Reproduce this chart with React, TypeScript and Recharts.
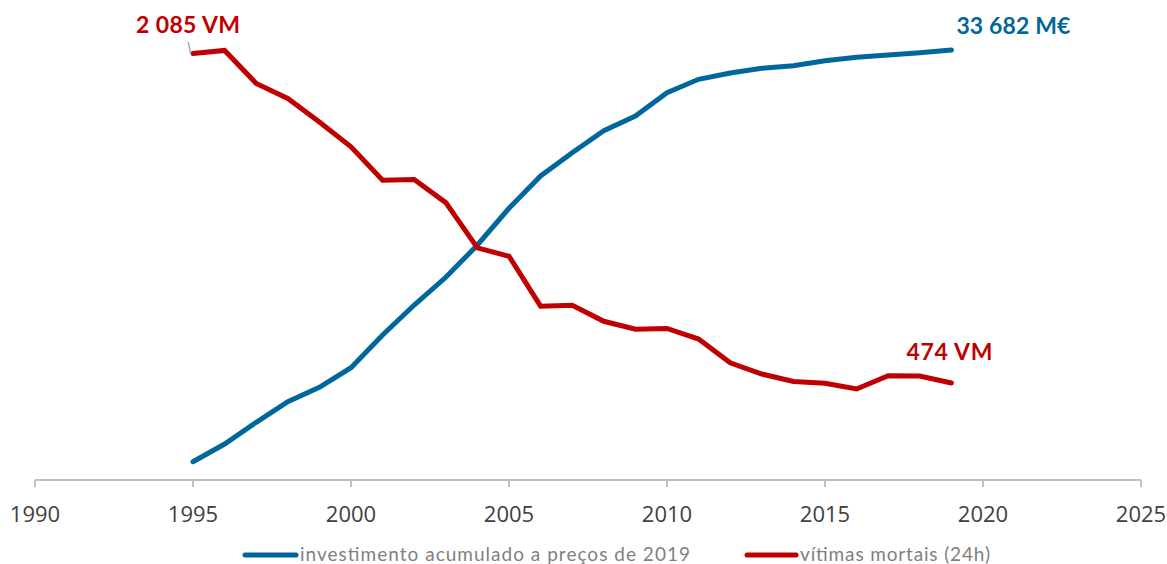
import React from 'react';
import { LineChart, Line, XAxis, YAxis, LabelList } from 'recharts';

const years = [1995, 1996, 1997, 1998, 1999, 2000, 2001, 2002, 2003, 2004, 2005, 2006, 2007, 2008, 2009, 2010, 2011, 2012, 2013, 2014, 2015, 2016, 2017, 2018, 2019];
const investimento = [1433, 2820, 4520, 6133, 7261, 8797, 11358, 13708, 15878, 18408, 21282, 23812, 25638, 27361, 28512, 30337, 31387, 31880, 32248, 32452, 32844, 33110, 33290, 33471, 33682];
const vitimas = [2085, 2100, 1939, 1865, 1750, 1629, 1466, 1469, 1356, 1135, 1094, 850, 854, 776, 737, 741, 689, 573, 518, 482, 473, 445, 510, 508, 474];
const xTicks = [1990, 1995, 2000, 2005, 2010, 2015, 2020, 2025];
const seriesNames = ['investimento acumulado a preços de 2019', 'vítimas mortais (24h)'];
const unitInvest = 'M€';
const unitVitimas = 'VM';

const BLUE = '#00679c';
const RED = '#c00000';

const data = years.map((year, i) => ({ year, investimento: investimento[i], vitimas: vitimas[i] }));

const fmt = (v: number) => Math.round(v).toString().replace(/\B(?=(\d{3})+(?!\d))/g, ' ');

const labelFont = { fontFamily: 'Lato, "Open Sans", sans-serif', fontWeight: 700, fontSize: 23 };

const RedLabel = (props: any) => {
  const { x, y, index, value } = props;
  if (index === 0) {
    return (
      <g>
        <line x1={x - 4.7} y1={y - 11.5} x2={x - 2.3} y2={y + 0.5} stroke="#a6a6a6" strokeWidth={1.5} />
        <text x={x - 5} y={y - 20.5} textAnchor="middle" fill={RED} {...labelFont} textLength={104} lengthAdjust="spacing">
          {`${fmt(value)} ${unitVitimas}`}
        </text>
      </g>
    );
  }
  if (index === vitimas.length - 1) {
    return (
      <text x={x - 2} y={y - 23} textAnchor="middle" fill={RED} {...labelFont} textLength={86} lengthAdjust="spacing">
        {`${fmt(value)} ${unitVitimas}`}
      </text>
    );
  }
  return null;
};

const BlueLabel = (props: any) => {
  const { x, y, index, value } = props;
  if (index === investimento.length - 1) {
    return (
      <text x={x + 5} y={y - 16} textAnchor="start" fill={BLUE} {...labelFont} textLength={114} lengthAdjust="spacing">
        {`${fmt(value)} ${unitInvest}`}
      </text>
    );
  }
  return null;
};

const Tick = (props: any) => {
  const { x, y, payload } = props;
  return (
    <text x={x} y={y + 33} textAnchor="middle" fill="#404040" fontSize={22} fontFamily='"Open Sans", sans-serif'>
      {payload.value}
    </text>
  );
};

const legendFont = { fontFamily: 'Lato, "Open Sans", sans-serif', fontSize: 19, fill: '#7f7f7f' };

export default function App() {
  return (
    <div style={{ position: 'absolute', left: 0, top: 0, width: 1167, height: 564, background: '#fff' }}>
      <LineChart width={1167} height={564} data={data} margin={{ top: 30, right: 26, bottom: 54, left: 35 }}>
        <XAxis
          dataKey="year"
          type="number"
          domain={[1990, 2025]}
          ticks={xTicks}
          interval={0}
          allowDecimals={false}
          height={30}
          axisLine={{ stroke: '#c0c0c0', strokeWidth: 2 }}
          tickLine={{ stroke: '#c0c0c0', strokeWidth: 2 }}
          tickSize={7}
          tick={<Tick />}
        />
        <YAxis yAxisId="left" hide domain={[0, 2200]} />
        <YAxis yAxisId="right" hide orientation="right" domain={[0, 35250]} />
        <Line
          yAxisId="right"
          dataKey="investimento"
          name={seriesNames[0]}
          stroke={BLUE}
          strokeWidth={5}
          dot={false}
          activeDot={false}
          strokeLinecap="round"
          isAnimationActive={false}
        >
          <LabelList dataKey="investimento" content={<BlueLabel />} />
        </Line>
        <Line
          yAxisId="left"
          dataKey="vitimas"
          name={seriesNames[1]}
          stroke={RED}
          strokeWidth={5}
          dot={false}
          activeDot={false}
          strokeLinecap="round"
          isAnimationActive={false}
        >
          <LabelList dataKey="vitimas" content={<RedLabel />} />
        </Line>
      </LineChart>
      <svg width={1167} height={29} style={{ position: 'absolute', left: 0, top: 540 }}>
        <line x1={245} y1={15} x2={296} y2={15} stroke={BLUE} strokeWidth={5} strokeLinecap="round" />
        <text x={300} y={21} {...legendFont} textLength={390} lengthAdjust="spacing">{seriesNames[0]}</text>
        <line x1={747} y1={15} x2={796} y2={15} stroke={RED} strokeWidth={5} strokeLinecap="round" />
        <text x={800} y={21} {...legendFont} textLength={190} lengthAdjust="spacing">{seriesNames[1]}</text>
      </svg>
    </div>
  );
}
